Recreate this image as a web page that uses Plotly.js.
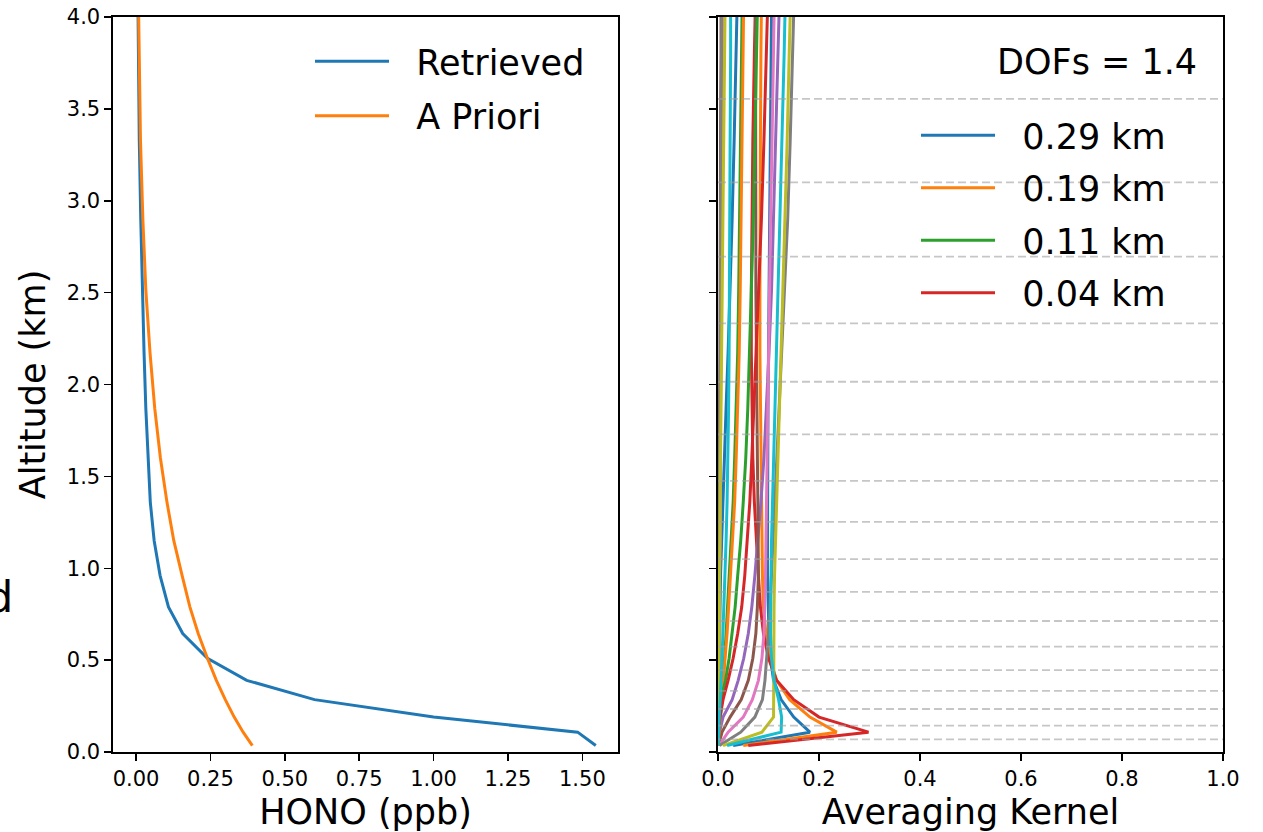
<!DOCTYPE html>
<html><head><meta charset="utf-8">
<script src="https://cdn.plot.ly/plotly-3.0.1.min.js"></script>
<style>html,body{margin:0;padding:0;background:#fff}#chart{width:1263px;height:832px}</style>
</head><body><div id="chart"></div>
<script>
// Layer-center altitudes (km)
const altitudes = [0.035, 0.108, 0.19, 0.285, 0.39, 0.51, 0.645, 0.79, 0.96, 1.15, 1.36, 1.6, 1.87, 2.175, 2.515, 2.9, 3.33, 3.8, 4.33];
// HONO profiles (ppb)
const retrieved = [1.545, 1.484, 1.00, 0.60, 0.372, 0.24, 0.157, 0.109, 0.081, 0.061, 0.048, 0.040, 0.033, 0.027, 0.021, 0.016, 0.011, 0.008, 0.005];
const apriori   = [0.391, 0.36, 0.33, 0.30, 0.27, 0.240, 0.209, 0.181, 0.155, 0.127, 0.104, 0.082, 0.063, 0.047, 0.033, 0.023, 0.015, 0.010, 0.006];
const profileNames = ['Retrieved', 'A Priori'];

// Averaging kernel rows
const ak0  = [0.030, 0.182, 0.150, 0.125, 0.110, 0.104, 0.101, 0.099, 0.098, 0.098, 0.098, 0.099, 0.099, 0.100, 0.101, 0.102, 0.103, 0.105, 0.107];
const ak1  = [0.050, 0.235, 0.182, 0.142, 0.116, 0.103, 0.095, 0.090, 0.088, 0.087, 0.086, 0.085, 0.084, 0.083, 0.083, 0.083, 0.084, 0.085, 0.087];
const ak2  = [0.001, 0.003, 0.005, 0.007, 0.010, 0.013, 0.016, 0.019, 0.022, 0.026, 0.030, 0.033, 0.036, 0.039, 0.041, 0.043, 0.045, 0.047, 0.049];
const ak3  = [0.060, 0.298, 0.200, 0.150, 0.116, 0.100, 0.090, 0.084, 0.080, 0.076, 0.072, 0.069, 0.067, 0.066, 0.066, 0.067, 0.069, 0.072, 0.076];
const ak4  = [0.000, 0.003, 0.010, 0.028, 0.040, 0.051, 0.060, 0.067, 0.073, 0.079, 0.085, 0.091, 0.096, 0.101, 0.106, 0.110, 0.115, 0.119, 0.124];
const ak5  = [0.001, 0.008, 0.024, 0.046, 0.060, 0.069, 0.075, 0.078, 0.080, 0.080, 0.079, 0.078, 0.077, 0.076, 0.075, 0.075, 0.074, 0.074, 0.074];
const ak6  = [0.002, 0.020, 0.050, 0.068, 0.080, 0.087, 0.091, 0.093, 0.094, 0.095, 0.096, 0.097, 0.098, 0.100, 0.102, 0.104, 0.107, 0.110, 0.113];
const ak7  = [0.003, 0.045, 0.073, 0.088, 0.093, 0.097, 0.100, 0.103, 0.106, 0.109, 0.113, 0.117, 0.121, 0.126, 0.132, 0.138, 0.143, 0.148, 0.153];
const ak8  = [0.010, 0.087, 0.110, 0.110, 0.110, 0.110, 0.110, 0.111, 0.112, 0.114, 0.117, 0.120, 0.123, 0.126, 0.129, 0.133, 0.137, 0.141, 0.146];
const ak9  = [0.018, 0.125, 0.126, 0.120, 0.111, 0.106, 0.104, 0.104, 0.105, 0.106, 0.108, 0.111, 0.113, 0.116, 0.119, 0.123, 0.127, 0.131, 0.135];
const ak10 = [0.000, 0.001, 0.001, 0.002, 0.002, 0.003, 0.003, 0.004, 0.005, 0.007, 0.010, 0.013, 0.016, 0.020, 0.024, 0.028, 0.032, 0.036, 0.040];
const ak11 = [0.000, 0.002, 0.004, 0.007, 0.010, 0.014, 0.018, 0.021, 0.025, 0.029, 0.033, 0.036, 0.039, 0.042, 0.044, 0.046, 0.048, 0.050, 0.052];
const ak12 = [0.000, 0.001, 0.002, 0.005, 0.015, 0.022, 0.028, 0.034, 0.039, 0.045, 0.050, 0.055, 0.059, 0.063, 0.066, 0.070, 0.073, 0.077, 0.080];
const ak13 = [0.000, 0.001, 0.004, 0.010, 0.020, 0.030, 0.039, 0.047, 0.053, 0.058, 0.063, 0.067, 0.071, 0.076, 0.081, 0.086, 0.091, 0.096, 0.101];
const ak14 = [0.000, 0.000, 0.001, 0.001, 0.001, 0.002, 0.002, 0.002, 0.003, 0.003, 0.004, 0.004, 0.005, 0.005, 0.006, 0.006, 0.007, 0.007, 0.008];
const ak15 = [0.000, 0.000, 0.000, 0.001, 0.001, 0.001, 0.001, 0.002, 0.002, 0.002, 0.003, 0.003, 0.003, 0.004, 0.004, 0.005, 0.005, 0.006, 0.006];
const ak16 = [0.000, 0.000, 0.001, 0.001, 0.002, 0.002, 0.002, 0.003, 0.003, 0.004, 0.004, 0.005, 0.005, 0.006, 0.007, 0.007, 0.008, 0.009, 0.010];
const ak17 = [0.000, 0.000, 0.000, 0.001, 0.001, 0.001, 0.002, 0.002, 0.002, 0.003, 0.003, 0.003, 0.004, 0.004, 0.005, 0.005, 0.006, 0.007, 0.008];
const ak18 = [0.000, 0.000, 0.001, 0.001, 0.002, 0.002, 0.003, 0.003, 0.003, 0.004, 0.004, 0.005, 0.006, 0.007, 0.008, 0.009, 0.011, 0.013, 0.015];
const ak19 = [0.000, 0.001, 0.002, 0.004, 0.006, 0.008, 0.010, 0.012, 0.014, 0.016, 0.018, 0.020, 0.021, 0.022, 0.023, 0.024, 0.024, 0.025, 0.025];
const akRows = [ak0, ak1, ak2, ak3, ak4, ak5, ak6, ak7, ak8, ak9, ak10, ak11, ak12, ak13, ak14, ak15, ak16, ak17, ak18, ak19];
const akLegendNames = ['0.29 km', '0.19 km', '0.11 km', '0.04 km'];
const dofsText = 'DOFs = 1.4';
// Layer boundaries (km), drawn as dashed lines
const layerBounds = [0.069, 0.143, 0.234, 0.333, 0.446, 0.573, 0.713, 0.871, 1.05, 1.252, 1.476, 1.729, 2.015, 2.333, 2.696, 3.1, 3.554];
const hxTicks = [0, 0.25, 0.5, 0.75, 1.0, 1.25, 1.5];

const tab10 = ['#1f77b4', '#ff7f0e', '#2ca02c', '#d62728', '#9467bd', '#8c564b', '#e377c2', '#7f7f7f', '#bcbd22', '#17becf'];
const W = 1263, H = 832;
const px = v => v / W, py = v => 1 - v / H;
const FONT = 'DejaVu Sans, Liberation Sans, sans-serif';
const GAP = '\u00a0\u00a0';

const traces = [
  {x: retrieved, y: altitudes, name: GAP + profileNames[0], mode: 'lines', line: {color: tab10[0], width: 3}, xaxis: 'x', yaxis: 'y', legend: 'legend', legendgroup: 'a'},
  {x: apriori, y: altitudes, name: GAP + profileNames[1], mode: 'lines', line: {color: tab10[1], width: 3}, xaxis: 'x', yaxis: 'y', legend: 'legend', legendgroup: 'b'}
];
akRows.forEach((row, i) => {
  traces.push({
    x: row, y: altitudes, mode: 'lines',
    name: i < akLegendNames.length ? GAP + akLegendNames[i] : 'row ' + i,
    showlegend: i < akLegendNames.length,
    legend: 'legend2', legendgroup: 'k' + i,
    line: {color: tab10[i % 10], width: 3},
    xaxis: 'x2', yaxis: 'y2'
  });
});

const axisCommon = {
  ticks: 'outside', ticklen: 7, tickwidth: 1.5, tickcolor: '#000',
  showline: true, mirror: true, linecolor: '#000', linewidth: 1.6,
  showgrid: false, zeroline: false, tickfont: {size: 21, family: FONT, color: '#000'}
};

const shapes = layerBounds.map(b => ({
  type: 'line', xref: 'x2 domain', yref: 'y2', x0: 0, x1: 1, y0: b, y1: b,
  line: {color: 'rgba(160,160,160,0.6)', width: 1.8, dash: '8px,4px'}, layer: 'above'
}));

const layout = {
  width: W, height: H, margin: {l: 0, r: 0, t: 0, b: 0},
  paper_bgcolor: '#fff', plot_bgcolor: '#fff',
  font: {family: FONT, color: '#000', size: 21},
  showlegend: true,
  xaxis: Object.assign({}, axisCommon, {
    domain: [px(113), px(618)], range: [-0.0773, 1.6197], tickvals: hxTicks, tickformat: '.2f', anchor: 'y',
    title: {text: 'HONO (ppb)', font: {size: 35, family: FONT}, standoff: 14}
  }),
  yaxis: Object.assign({}, axisCommon, {
    domain: [py(752), py(17)], range: [0, 4], dtick: 0.5, tick0: 0, tickformat: '.1f', anchor: 'x',
    title: {text: 'Altitude (km)', font: {size: 35, family: FONT}, standoff: 10}
  }),
  xaxis2: Object.assign({}, axisCommon, {
    domain: [px(718), px(1223)], range: [0, 1], dtick: 0.2, tick0: 0, tickformat: '.1f', anchor: 'y2',
    title: {text: 'Averaging Kernel', font: {size: 35, family: FONT}, standoff: 14}
  }),
  yaxis2: Object.assign({}, axisCommon, {
    domain: [py(752), py(17)], range: [0, 4], dtick: 0.5, tick0: 0, showticklabels: false, anchor: 'x2'
  }),
  legend: {x: px(310), y: py(32), xanchor: 'left', yanchor: 'top', bgcolor: 'rgba(0,0,0,0)',
    font: {size: 35, family: FONT}, itemwidth: 74, tracegroupgap: 6},
  legend2: {x: px(916), y: py(106), xanchor: 'left', yanchor: 'top', bgcolor: 'rgba(0,0,0,0)',
    font: {size: 35, family: FONT}, itemwidth: 74, tracegroupgap: 4},
  shapes: shapes,
  annotations: [
    {text: dofsText, xref: 'paper', yref: 'paper', x: px(1199), y: py(62), xanchor: 'right', yanchor: 'middle',
     showarrow: false, font: {size: 35, family: FONT}},
    {text: 'd', xref: 'paper', yref: 'paper', x: px(-16), y: py(597), xanchor: 'left', yanchor: 'middle',
     showarrow: false, font: {size: 43, family: FONT}}
  ]
};

Plotly.newPlot('chart', traces, layout, {displayModeBar: false, staticPlot: true});
</script>
</body></html>
